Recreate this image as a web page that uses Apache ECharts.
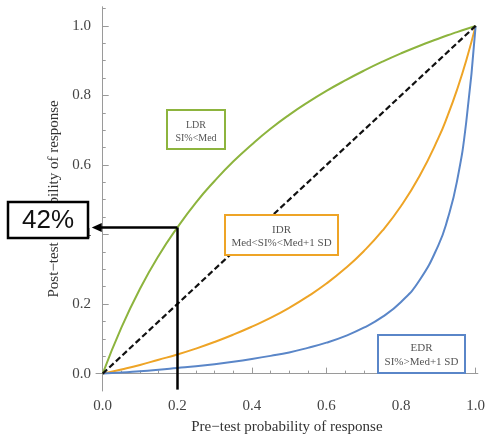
<!DOCTYPE html>
<html>
<head>
<meta charset="utf-8">
<script src="https://cdn.jsdelivr.net/npm/echarts@6/dist/echarts.min.js"></script>
<style>html,body{margin:0;padding:0;background:#fff}#c{width:488px;height:440px}</style>
</head>
<body>
<div id="c"></div>
<script>
// ---- data ----
const preTest = [0, 0.05, 0.1, 0.15, 0.2, 0.25, 0.3, 0.35, 0.4, 0.45, 0.5, 0.55, 0.6, 0.65, 0.7, 0.75, 0.8, 0.85, 0.9, 0.925, 0.95, 0.975, 1];
const ldrPost = [0, 0.132, 0.244, 0.339, 0.420, 0.492, 0.554, 0.610, 0.659, 0.704, 0.744, 0.780, 0.813, 0.843, 0.871, 0.897, 0.921, 0.943, 0.963, 0.973, 0.982, 0.991, 1];
const idrPost = [0, 0.012, 0.025, 0.040, 0.055, 0.072, 0.091, 0.112, 0.135, 0.160, 0.189, 0.222, 0.259, 0.302, 0.352, 0.411, 0.482, 0.569, 0.677, 0.742, 0.816, 0.901, 1];
const edrPost = [0, 0.003, 0.007, 0.011, 0.016, 0.021, 0.027, 0.034, 0.042, 0.051, 0.061, 0.074, 0.089, 0.108, 0.132, 0.163, 0.206, 0.269, 0.369, 0.445, 0.553, 0.725, 1];
const diagPre = [0, 1];
const diagPost = [0, 1];
const majorTicks = [0, 0.2, 0.4, 0.6, 0.8, 1.0];
const xMinorTicks = [0.05, 0.1, 0.15, 0.25, 0.3, 0.35, 0.45, 0.5, 0.55, 0.65, 0.7, 0.75, 0.85, 0.9, 0.95];
const yMinorTicks = [0.05, 0.1, 0.15, 0.25, 0.3, 0.35, 0.45, 0.5, 0.55, 0.65, 0.7, 0.75, 0.85, 0.9, 0.95, 1.05];
const highlightPre = 0.2;
const highlightPost = 0.42;
const highlightText = '42%';
const xTitle = 'Pre\u2212test probability of response';
const yTitle = 'Post\u2212test probability of response';
const boxLDR = ['LDR', 'SI%<Med'];
const boxIDR = ['IDR', 'Med<SI%<Med+1 SD'];
const boxEDR = ['EDR', 'SI%>Med+1 SD'];

// ---- styling ----
const GREEN = '#8db43e', ORANGE = '#eea426', BLUE = '#5a86c8';
const SERIF = 'Liberation Serif';
const xMin = -0.018, xMax = 1.006, yMin = -0.05, yMax = 1.055;

function pairs(xs, ys) { return xs.map((x, i) => [x, ys[i]]); }

const axisLineStyle = { lineStyle: { color: '#9a9a9a', width: 1 } };
const labelStyle = { color: '#444', fontFamily: SERIF, fontSize: 15, formatter: v => Number(v).toFixed(1) };

const chart = echarts.init(document.getElementById('c'), null, { renderer: 'canvas' });
chart.setOption({
  animation: false,
  backgroundColor: '#fff',
  grid: { left: 96, right: 8, top: 6.75, bottom: 46.5, containLabel: false },
  xAxis: [{
    type: 'value', min: xMin, max: xMax, position: 'bottom',
    axisLine: axisLineStyle, splitLine: { show: false },
    axisTick: { show: true, inside: true, length: 6, customValues: majorTicks, lineStyle: { color: '#9a9a9a' } },
    axisLabel: Object.assign({ customValues: majorTicks, margin: 8 }, labelStyle),
    name: xTitle, nameLocation: 'middle', nameGap: 29,
    nameTextStyle: { color: '#333', fontFamily: SERIF, fontSize: 15 }
  }, {
    type: 'value', min: xMin, max: xMax, position: 'bottom',
    axisLine: { show: false }, splitLine: { show: false }, axisLabel: { show: false },
    axisTick: { show: true, inside: true, length: 3, customValues: xMinorTicks, lineStyle: { color: '#9a9a9a' } }
  }],
  yAxis: [{
    type: 'value', min: yMin, max: yMax, position: 'left',
    axisLine: Object.assign({ show: true }, axisLineStyle), splitLine: { show: false },
    axisTick: { show: true, inside: true, length: 6, customValues: majorTicks, lineStyle: { color: '#9a9a9a' } },
    axisLabel: Object.assign({ customValues: majorTicks, margin: 5 }, labelStyle),
    name: yTitle, nameLocation: 'middle', nameGap: 33,
    nameTextStyle: { color: '#333', fontFamily: SERIF, fontSize: 15 }
  }, {
    type: 'value', min: yMin, max: yMax, position: 'left',
    axisLine: { show: false }, splitLine: { show: false }, axisLabel: { show: false },
    axisTick: { show: true, inside: true, length: 3, customValues: yMinorTicks, lineStyle: { color: '#9a9a9a' } }
  }],
  series: [
    { name: 'LDR', type: 'line', data: pairs(preTest, ldrPost), smooth: true, symbol: 'none',
      lineStyle: { color: GREEN, width: 2 }, z: 3 },
    { name: 'IDR', type: 'line', data: pairs(preTest, idrPost), smooth: true, symbol: 'none',
      lineStyle: { color: ORANGE, width: 2 }, z: 3 },
    { name: 'EDR', type: 'line', data: pairs(preTest, edrPost), smooth: true, symbol: 'none',
      lineStyle: { color: BLUE, width: 2 }, z: 3 },
    { name: 'Reference', type: 'line', data: pairs(diagPre, diagPost), symbol: 'none',
      lineStyle: { color: '#111', width: 2.2, type: [6, 3] }, z: 4 },
    { name: 'Highlight', type: 'line', data: [], z: 5,
      markLine: {
        silent: true, animation: false, symbol: ['none', 'none'], label: { show: false },
        lineStyle: { color: '#000', width: 2.5, type: 'solid' },
        data: [
          [{ coord: [highlightPre, yMin + 0.004] }, { coord: [highlightPre, highlightPost] }],
          [{ coord: [highlightPre, highlightPost] }, { coord: [xMin + 0.002, highlightPost], symbol: 'triangle', symbolSize: [9, 10] }]
        ]
      }
    }
  ],
  graphic: [
    { type: 'rect', z: 100, shape: { x: 167, y: 110, width: 58, height: 39 }, style: { fill: '#fff', stroke: GREEN, lineWidth: 2 } },
    { type: 'text', z: 101, style: { x: 196, y: 125, text: boxLDR[0], align: 'center', verticalAlign: 'middle', fill: '#555', font: '10px "Liberation Serif"' } },
    { type: 'text', z: 101, style: { x: 196, y: 138, text: boxLDR[1], align: 'center', verticalAlign: 'middle', fill: '#555', font: '10px "Liberation Serif"' } },

    { type: 'rect', z: 100, shape: { x: 225, y: 215, width: 113, height: 40 }, style: { fill: '#fff', stroke: ORANGE, lineWidth: 2 } },
    { type: 'text', z: 101, style: { x: 281.5, y: 230.5, text: boxIDR[0], align: 'center', verticalAlign: 'middle', fill: '#555', font: '11px "Liberation Serif"' } },
    { type: 'text', z: 101, style: { x: 281.5, y: 243.5, text: boxIDR[1], align: 'center', verticalAlign: 'middle', fill: '#555', font: '11px "Liberation Serif"' } },

    { type: 'rect', z: 100, shape: { x: 378, y: 335, width: 87, height: 38 }, style: { fill: '#fff', stroke: BLUE, lineWidth: 2 } },
    { type: 'text', z: 101, style: { x: 421.5, y: 348.5, text: boxEDR[0], align: 'center', verticalAlign: 'middle', fill: '#555', font: '11px "Liberation Serif"' } },
    { type: 'text', z: 101, style: { x: 421.5, y: 362.5, text: boxEDR[1], align: 'center', verticalAlign: 'middle', fill: '#555', font: '11px "Liberation Serif"' } },

    { type: 'rect', z: 100, shape: { x: 8, y: 202, width: 80, height: 36 }, style: { fill: '#fff', stroke: '#000', lineWidth: 2.5 } },
    { type: 'text', z: 101, style: { x: 48, y: 220.5, text: highlightText, align: 'center', verticalAlign: 'middle', fill: '#111', font: '26px "Liberation Sans"' } }
  ]
});
</script>
</body>
</html>
